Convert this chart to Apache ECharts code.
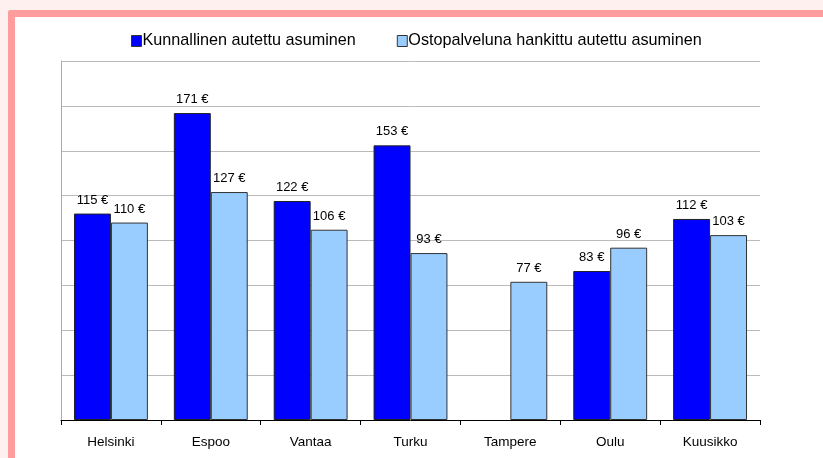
<!DOCTYPE html>
<html>
<head>
<meta charset="utf-8">
<script src="https://cdn.jsdelivr.net/npm/echarts@6/dist/echarts.min.js"></script>
<style>
  html, body { margin: 0; padding: 0; background: #fff0f0; overflow: hidden; }
  .frame {
    position: absolute; left: 8px; top: 10px; width: 830px; height: 460px;
    border-left: 7px solid #ff9c9c; border-top: 7px solid #ff9c9c;
    border-top-left-radius: 3px; background: #fff;
  }
  #chart { position: absolute; left: 0; top: 0; width: 823px; height: 458px; }
</style>
</head>
<body>
<div class="frame"></div>
<div id="chart"></div>
<script>
const categories = ["Helsinki", "Espoo", "Vantaa", "Turku", "Tampere", "Oulu", "Kuusikko"];
const kunnallinen = [115, 171, 122, 153, null, 83, 112];
const ostopalvelu = [110, 127, 106, 93, 77, 96, 103];
const seriesNames = ["Kunnallinen autettu asuminen", "Ostopalveluna hankittu autettu asuminen"];

const chart = echarts.init(document.getElementById("chart"));
const labelOpt = {
  show: true,
  position: "top",
  distance: 7,
  color: "#000",
  fontFamily: "Liberation Sans",
  fontSize: 13,
  formatter: p => p.value + " €"
};
chart.setOption({
  animation: false,
  textStyle: { fontFamily: "Liberation Sans" },
  legend: {
    top: 28,
    left: 126,
    itemWidth: 10,
    itemHeight: 11,
    itemGap: 41,
    icon: "rect",
    textStyle: { fontSize: 16.2, color: "#000", padding: [0, 0, 0, -4] },
    data: seriesNames.map(name => ({ name, itemStyle: { borderColor: "#333", borderWidth: 1 } }))
  },
  grid: { left: 61, right: 63, top: 61, bottom: 38 },
  xAxis: {
    type: "category",
    data: categories,
    axisLine: { lineStyle: { color: "#000", width: 1 } },
    axisTick: { show: true, length: 5, lineStyle: { color: "#000" } },
    axisLabel: { color: "#000", fontSize: 13.5, margin: 15 }
  },
  yAxis: {
    type: "value",
    min: 0,
    max: 200,
    interval: 25,
    axisLine: { show: true, lineStyle: { color: "#aaa" } },
    axisTick: { show: false },
    axisLabel: { show: false },
    splitLine: { lineStyle: { color: "#bbb", width: 1 } }
  },
  series: [
    {
      name: seriesNames[0],
      type: "bar",
      data: kunnallinen,
      barGap: "0%",
      barCategoryGap: "26%",
      itemStyle: { color: "#0000ff", borderColor: "#222", borderWidth: 1 },
      label: labelOpt
    },
    {
      name: seriesNames[1],
      type: "bar",
      data: ostopalvelu,
      itemStyle: { color: "#99ccff", borderColor: "#333", borderWidth: 1 },
      label: labelOpt
    }
  ]
});
</script>
</body>
</html>
